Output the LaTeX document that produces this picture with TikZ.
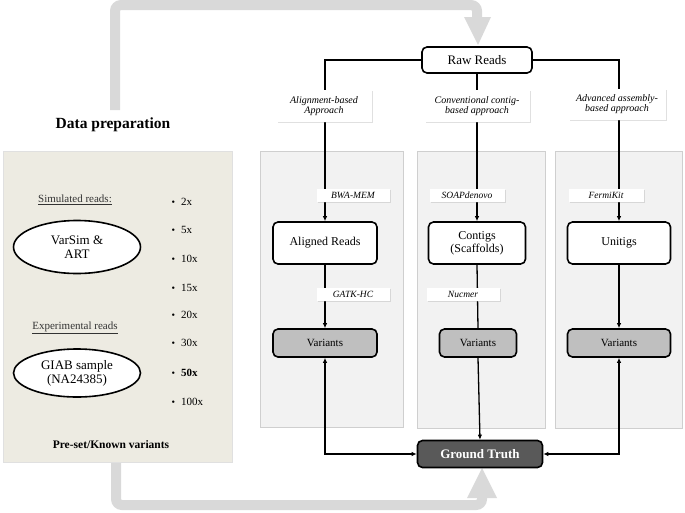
\documentclass[tikz,border=0pt]{standalone}
\usepackage{fontspec}
\setmainfont{Liberation Serif}
\usetikzlibrary{arrows.meta,shadows,shapes.geometric}
\definecolor{beige}{HTML}{EDEBE2}
\definecolor{panelfill}{HTML}{F2F2F2}
\definecolor{panelline}{HTML}{CFCFCF}
\definecolor{band}{HTML}{D9D9D9}
\definecolor{varfill}{HTML}{BFBFBF}
\definecolor{gtfill}{HTML}{595959}
\newcommand{\fs}[1]{\fontsize{#1}{#1}\selectfont}
\newcommand{\bul}{{\fs{10}\textbullet}\hspace{6pt}}
\begin{document}
\begin{tikzpicture}[x=1pt,y=-1pt,
  box/.style={draw=black, line width=1.6pt, rounded corners=5pt, fill=white, align=center, font=\fs{12}, inner sep=1pt},
  varbox/.style={box, fill=varfill, font=\fs{11}, minimum height=28pt},
  lbl/.style={fill=white, drop shadow={opacity=0.3, shadow xshift=1.2pt, shadow yshift=-1.2pt, fill=black!40}, align=center, font=\fs{10}\itshape, inner sep=1pt},
  tool/.style={lbl, font=\fs{9.5}\itshape, minimum height=13pt},
  panel/.style={draw=panelline, fill=panelfill, line width=0.6pt},
  conn/.style={line width=1.3pt},
  arr/.style={conn, -{Latex[length=5pt,width=4.5pt]}},
  darr/.style={conn, {Latex[length=5pt,width=4.5pt]}-{Latex[length=5pt,width=4.5pt]}},
  oval/.style={ellipse, draw=black, line width=1.6pt, fill=white, align=center, font=\fs{13}, inner sep=0pt},
  item/.style={anchor=west, font=\fs{11}},
  bandline/.style={draw=band, line width=10pt, rounded corners=6pt}
]
\useasboundingbox (0,0) rectangle (685,512);

% gray feed arrows
\draw[bandline] (115,110) -- (115,5) -- (477,5) -- (477,19);
\fill[band] (464,17) -- (491,17) -- (478,45) -- cycle;
\draw[bandline] (116,462) -- (116,505) -- (482,505) -- (482,496);
\fill[band] (467,498) -- (497,498) -- (482,468) -- cycle;

% left data preparation box
\node[fill=beige, draw=black!12, line width=0.6pt, minimum width=229pt, minimum height=311pt, inner sep=0pt] (prep) at (117.5,306.5) {};
\node[font=\fs{15.5}\bfseries] (title) at (113,125) {Data preparation};
\node[font=\fs{11}, text=black!80] (sim) at (75,200) {\underline{Simulated reads:}};
\node[oval, minimum width=127pt, minimum height=53pt] (varsim) at (77,247) {VarSim \&\\[1pt]ART};
\node[font=\fs{11}, text=black!80] (exp) at (75,328) {\underline{Experimental reads}};
\node[oval, minimum width=127pt, minimum height=48pt] (giab) at (77,373) {GIAB sample\\[1pt](NA24385)};
\node[item] (c2) at (168,202) {\bul 2x};
\node[item] (c5) at (168,230) {\bul 5x};
\node[item] (c10) at (168,259) {\bul 10x};
\node[item] (c15) at (168,288) {\bul 15x};
\node[item] (c20) at (168,315) {\bul 20x};
\node[item] (c30) at (168,343) {\bul 30x};
\node[item] (c50) at (168,373) {\bul \textbf{50x}};
\node[item] (c100) at (168,402) {\bul 100x};
\node[font=\fs{11.5}\bfseries] (known) at (111,445) {Pre-set/Known variants};

% panels
\node[panel, minimum width=143pt, minimum height=276pt] (p1) at (331.5,289) {};
\node[panel, minimum width=128pt, minimum height=277pt] (p2) at (481,289.5) {};
\node[panel, minimum width=127pt, minimum height=277pt] (p3) at (618.5,289.5) {};

% main boxes
\node[box, font=\fs{13}, minimum width=110pt, minimum height=26pt] (raw) at (477,60) {Raw Reads};
\node[box, minimum width=104pt, minimum height=42pt] (ar) at (325,243) {Aligned Reads};
\node[box, minimum width=97pt, minimum height=42pt] (cg) at (477,243) {Contigs\\[1pt](Scaffolds)};
\node[box, minimum width=103pt, minimum height=42pt] (un) at (619,243) {Unitigs};
\node[varbox, minimum width=104pt] (v1) at (325,343) {Variants};
\node[varbox, minimum width=77pt] (v2) at (478,343) {Variants};
\node[varbox, minimum width=103pt] (v3) at (619,343) {Variants};
\node[box, fill=gtfill, text=white, font=\fs{13}\bfseries, minimum width=125pt, minimum height=27pt] (gt) at (480,454) {Ground Truth};

% connectors
\draw[arr] (raw.west) -| (ar.north);
\draw[arr] (raw.south) -- (cg.north);
\draw[arr] (raw.east) -| (un.north);
\draw[arr] (ar.south) -- (v1.north);
\draw[conn] (cg.south) -- (v2.north);
\draw[arr] (un.south) -- (v3.north);
\draw[arr] (v2.south) -- (gt.north);
\draw[darr] (v1.south) |- (gt.west);
\draw[darr] (v3.south) |- (gt.east);

% labels over the lines
\node[lbl, minimum width=95pt, minimum height=32pt] (l1) at (324,106) {Alignment-based\\Approach};
\node[lbl, minimum width=105pt, minimum height=32pt] (l2) at (477,106) {Conventional contig-\\based approach};
\node[lbl, minimum width=97pt, minimum height=31pt] (l3) at (617,104) {Advanced assembly-\\based approach};
\node[tool, minimum width=73pt] (t1) at (353,195) {BWA-MEM};
\node[tool, minimum width=75pt] (t2) at (467,195) {SOAPdenovo};
\node[tool, minimum width=75pt] (t3) at (606,195) {FermiKit};
\node[tool, minimum width=73pt] (t4) at (353,294) {GATK-HC};
\node[tool, minimum width=73pt] (t5) at (463,294) {Nucmer};
\end{tikzpicture}
\end{document}
